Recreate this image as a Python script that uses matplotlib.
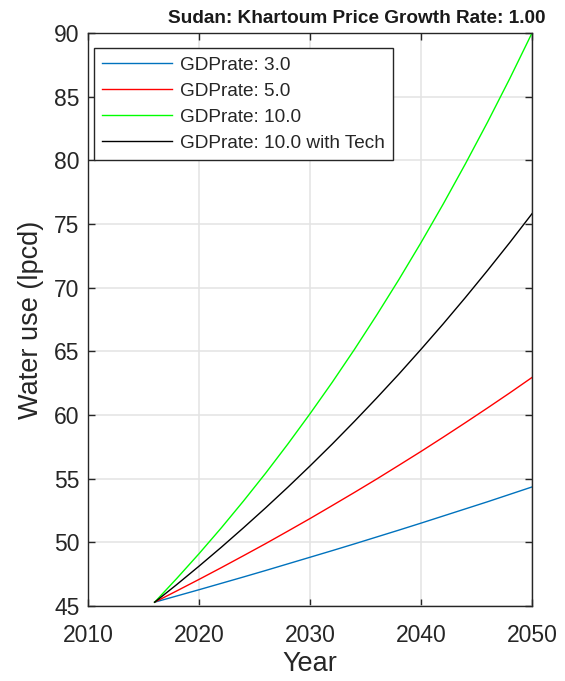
import matplotlib
matplotlib.use("Agg")
import matplotlib.pyplot as plt

## Projected per-capita water use for Khartoum under different GDP growth rates
years = [2016, 2018, 2020, 2022, 2024, 2026, 2028, 2030, 2032,
         2034, 2036, 2038, 2040, 2042, 2044, 2046, 2048, 2050]
gdp_3 = [45.3, 45.79, 46.28, 46.78, 47.28, 47.79, 48.31, 48.83, 49.35,
         49.88, 50.42, 50.96, 51.51, 52.07, 52.63, 53.19, 53.77, 54.35]
gdp_5 = [45.3, 46.19, 47.09, 48.01, 48.95, 49.90, 50.88, 51.87, 52.89,
         53.92, 54.97, 56.05, 57.14, 58.26, 59.40, 60.56, 61.74, 62.95]
gdp_10 = [45.3, 47.17, 49.11, 51.13, 53.24, 55.43, 57.72, 60.10, 62.57,
          65.15, 67.84, 70.63, 73.54, 76.57, 79.73, 83.01, 86.43, 90.0]
gdp_10_tech = [45.3, 46.69, 48.13, 49.61, 51.14, 52.71, 54.33, 56.00, 57.72,
               59.50, 61.33, 63.21, 65.16, 67.16, 69.23, 71.36, 73.55, 75.81]

labels = ["GDPrate: 3.0", "GDPrate: 5.0", "GDPrate: 10.0", "GDPrate: 10.0 with Tech"]
colors = ["#0072BD", "#FF0000", "#00FF00", "#000000"]

xticks = [2010, 2020, 2030, 2040, 2050]
yticks = [45, 50, 55, 60, 65, 70, 75, 80, 85, 90]

plt.rcParams["font.family"] = ["Liberation Sans", "DejaVu Sans"]
axis_color = "#262626"

fig = plt.figure(figsize=(5.65, 6.81), dpi=100)
ax = fig.add_axes([0.1558, 0.1101, 0.7858, 0.8414])

for series, label, color in zip([gdp_3, gdp_5, gdp_10, gdp_10_tech], labels, colors):
    ax.plot(years, series, color=color, linewidth=1.0, label=label)

ax.set_xlim(2010, 2050)
ax.set_ylim(45, 90)
ax.set_xticks(xticks)
ax.set_yticks(yticks)

## Light grid, box on, ticks pointing inward on all sides
ax.grid(True, color="#e3e3e3", linewidth=1.1)
ax.set_axisbelow(True)
ax.tick_params(direction="in", length=5, width=1.0, top=True, right=True,
               labelsize=16.5, colors=axis_color)
ax.tick_params(axis="x", pad=13)
ax.tick_params(axis="y", pad=6)
for spine in ax.spines.values():
    spine.set_color(axis_color)
    spine.set_linewidth(1.0)

ax.set_xlabel("Year", fontsize=19.5, color=axis_color, labelpad=3)
ax.set_ylabel("Water use (lpcd)", fontsize=19.5, color=axis_color, labelpad=7)

fig.text(545 / 565, 1 - 23 / 681, "Sudan: Khartoum Price Growth Rate: 1.00",
         ha="right", va="baseline", fontsize=13.7, fontweight="bold", color="#1a1a1a")

leg = ax.legend(loc="upper left", bbox_to_anchor=(0.013, 0.973), fontsize=13.7,
                frameon=True, fancybox=False, handlelength=3.7, handletextpad=0.4,
                borderpad=0.42, labelspacing=0.46, borderaxespad=0.0)
leg.get_frame().set_edgecolor(axis_color)
leg.get_frame().set_linewidth(1.0)
leg.get_frame().set_alpha(1.0)
for text in leg.get_texts():
    text.set_color(axis_color)

fig.savefig("out.png", dpi=100)
